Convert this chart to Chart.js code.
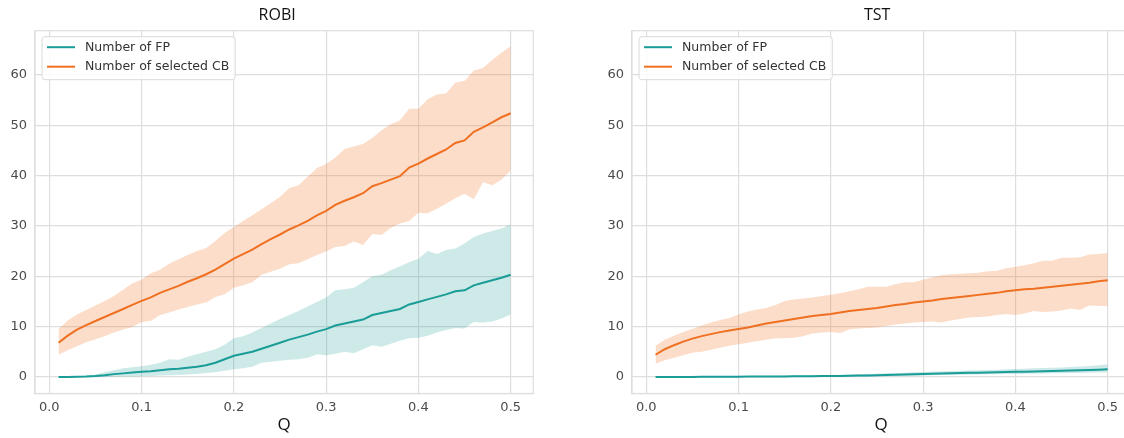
<!DOCTYPE html>
<html>
<head>
<meta charset="utf-8">
<script src="https://cdn.jsdelivr.net/npm/chart.js@4.4.1/dist/chart.umd.min.js"></script>
<style>
  html, body { margin: 0; padding: 0; background: #ffffff; overflow: hidden; }
  #wrap { position: relative; width: 1124px; height: 438px; overflow: hidden; }
  .box { position: absolute; top: 0; height: 438px; }
  #b1 { left: 0px; width: 560px; }
  #b2 { left: 582px; width: 560px; }
</style>
</head>
<body>
<div id="wrap">
  <div class="box" id="b1"><canvas id="c1" width="560" height="438"></canvas></div>
  <div class="box" id="b2"><canvas id="c2" width="560" height="438"></canvas></div>
</div>
<script>
// ---------------- data ----------------
const q = [0.01,0.02,0.03,0.04,0.05,0.06,0.07,0.08,0.09,0.10,
           0.11,0.12,0.13,0.14,0.15,0.16,0.17,0.18,0.19,0.20,
           0.21,0.22,0.23,0.24,0.25,0.26,0.27,0.28,0.29,0.30,
           0.31,0.32,0.33,0.34,0.35,0.36,0.37,0.38,0.39,0.40,
           0.41,0.42,0.43,0.44,0.45,0.46,0.47,0.48,0.49,0.50];

const titles = ["ROBI", "TST"];
const seriesLabels = ["Number of FP", "Number of selected CB"];
const yTicks = [0, 10, 20, 30, 40, 50, 60];
const xTicks = [0.0, 0.1, 0.2, 0.3, 0.4, 0.5];

// ROBI - Number of selected CB
const robiCbMean = [6.8,8.2,9.4,10.3,11.1,11.9,12.7,13.5,14.3,15.1,
                    15.8,16.7,17.4,18.1,18.9,19.6,20.4,21.3,22.4,23.5,
                    24.4,25.3,26.4,27.4,28.3,29.3,30.1,31.0,32.1,33.0,
                    34.2,35.0,35.7,36.5,37.9,38.5,39.2,39.9,41.6,42.4,
                    43.4,44.3,45.2,46.5,47.0,48.7,49.6,50.6,51.6,52.4];
const robiCbHigh = [9.5,11.2,12.4,13.3,14.2,15.1,16.1,17.3,18.6,19.3,
                    20.6,21.3,22.5,23.4,24.2,25.0,25.6,27.0,28.6,29.8,
                    31.0,32.1,33.3,34.5,35.8,37.5,38.1,39.8,41.5,42.3,
                    43.6,45.3,45.8,46.3,47.5,49.0,50.2,51.0,53.3,53.3,
                    55.2,56.1,56.3,58.5,58.8,60.9,61.4,63.0,64.4,65.7];
const robiCbLow  = [4.4,5.3,6.1,6.9,7.5,8.1,8.8,9.4,9.9,10.9,
                    11.1,12.3,12.8,13.4,13.9,14.4,14.8,15.9,16.4,17.7,
                    18.2,18.8,20.3,20.9,21.5,22.4,22.6,23.4,24.2,24.9,
                    25.8,26.0,26.9,26.2,28.4,28.2,29.6,30.5,31.0,32.6,
                    32.5,33.4,34.4,35.5,36.4,35.3,38.7,38.1,39.2,41.0];

// ROBI - Number of FP
const robiFpMean = [0.0,0.0,0.05,0.1,0.2,0.35,0.55,0.7,0.85,1.0,
                    1.1,1.3,1.5,1.6,1.8,2.0,2.3,2.8,3.5,4.2,
                    4.6,5.0,5.6,6.2,6.8,7.4,7.9,8.4,9.0,9.5,
                    10.2,10.6,11.0,11.4,12.3,12.7,13.1,13.5,14.4,14.9,
                    15.4,15.9,16.4,17.0,17.2,18.2,18.7,19.2,19.7,20.3];
const robiFpHigh = [0.0,0.05,0.15,0.3,0.5,0.9,1.3,1.7,1.9,2.1,
                    2.4,2.8,3.5,3.4,4.0,4.5,5.0,5.5,6.4,7.7,
                    8.1,8.8,9.7,10.6,11.5,12.3,13.1,14.0,14.9,15.8,
                    17.2,17.4,17.7,18.8,20.0,20.3,21.2,22.0,22.8,23.5,
                    25.0,24.4,25.2,25.5,26.5,27.8,28.5,29.0,29.5,30.3];
const robiFpLow  = [0.0,0.0,0.0,0.0,0.0,0.0,0.05,0.1,0.1,0.15,
                    0.2,0.3,0.35,0.4,0.5,0.6,0.75,0.9,1.2,1.5,
                    1.7,2.0,2.8,3.0,3.2,3.4,3.5,3.8,4.5,4.3,
                    4.6,5.0,4.7,5.5,6.3,6.0,6.6,7.2,7.7,7.8,
                    8.2,8.8,9.3,9.7,9.6,10.9,10.8,11.0,11.6,12.4];

// TST - Number of selected CB
const tstCbMean = [4.4,5.5,6.3,7.0,7.6,8.1,8.5,8.9,9.2,9.5,
                   9.8,10.2,10.6,10.9,11.2,11.5,11.8,12.1,12.3,12.5,
                   12.8,13.1,13.3,13.5,13.7,14.0,14.3,14.5,14.8,15.0,
                   15.2,15.5,15.7,15.9,16.1,16.3,16.5,16.7,17.0,17.2,
                   17.4,17.5,17.7,17.9,18.1,18.3,18.5,18.7,19.0,19.2];
const tstCbHigh = [6.2,7.4,8.2,8.9,9.5,10.2,10.8,11.3,11.7,12.4,
                   13.0,13.4,13.7,14.3,15.1,15.4,15.6,15.8,16.1,16.3,
                   16.6,17.0,17.4,17.9,17.9,17.9,18.4,18.8,18.8,19.3,
                   19.8,20.2,20.4,20.5,20.6,20.7,21.0,21.1,21.6,21.9,
                   22.2,22.6,23.1,23.1,23.7,23.7,23.8,24.3,24.4,24.6];
const tstCbLow  = [2.6,3.3,3.8,4.3,4.8,5.0,5.4,5.8,6.2,6.5,
                   6.8,7.1,7.4,7.7,7.7,7.8,8.1,8.6,8.8,8.9,
                   8.7,9.4,9.6,9.7,9.8,10.1,10.4,10.6,10.8,10.9,
                   11.0,10.8,11.2,11.5,11.8,11.9,12.0,12.3,12.5,12.3,
                   12.6,13.1,12.9,13.0,13.2,13.6,13.3,14.2,14.1,14.1];

// TST - Number of FP
const tstFpMean = [0.0,0.0,0.0,0.0,0.0,0.01,0.02,0.03,0.04,0.05,
                   0.06,0.07,0.08,0.09,0.1,0.11,0.12,0.14,0.16,0.18,
                   0.2,0.23,0.26,0.3,0.34,0.38,0.43,0.48,0.53,0.58,
                   0.63,0.68,0.72,0.76,0.8,0.84,0.88,0.92,0.96,1.0,
                   1.04,1.08,1.12,1.16,1.2,1.26,1.32,1.38,1.44,1.5];
const tstFpHigh = [0.0,0.0,0.0,0.02,0.04,0.06,0.08,0.1,0.12,0.14,
                   0.16,0.18,0.2,0.22,0.25,0.28,0.3,0.33,0.36,0.4,
                   0.44,0.48,0.52,0.58,0.64,0.7,0.76,0.82,0.9,0.98,
                   1.05,1.12,1.16,1.2,1.25,1.3,1.36,1.42,1.5,1.58,
                   1.64,1.7,1.76,1.82,1.88,1.95,2.05,2.15,2.3,2.5];
const tstFpLow  = [0.0,0.0,0.0,0.0,0.0,0.0,0.0,0.0,0.0,0.0,
                   0.0,0.0,0.01,0.01,0.02,0.02,0.03,0.03,0.04,0.05,
                   0.06,0.07,0.08,0.1,0.12,0.15,0.18,0.21,0.25,0.3,
                   0.33,0.36,0.39,0.42,0.45,0.48,0.51,0.54,0.57,0.6,
                   0.62,0.64,0.67,0.7,0.72,0.75,0.78,0.82,0.86,0.9];

// ---------------- styling ----------------
const TEAL = '#1a9c97';
const ORANGE = '#f07022';
const TEAL_FILL = 'rgba(26,156,151,0.22)';
const ORANGE_FILL = 'rgba(240,112,34,0.24)';
const GRID = '#dedede';
const TICK_FONT = "'DejaVu Sans', sans-serif";
const TITLE_FONT = "'Open Sans', sans-serif";

function pts(arr) { return q.map((x, i) => ({ x: x, y: arr[i] })); }

function band(lowArr, highArr, fill, tag) {
  return [
    { label: tag + '_low', data: pts(lowArr), borderWidth: 0, pointRadius: 0, fill: false, order: 5, isBand: true, borderColor: 'rgba(0,0,0,0)' },
    { label: tag + '_high', data: pts(highArr), borderWidth: 0, pointRadius: 0, fill: '-1', backgroundColor: fill, order: 5, isBand: true, borderColor: 'rgba(0,0,0,0)' }
  ];
}

const legendPlugin = {
  id: 'mplLegend',
  afterDraw(chart) {
    const ctx = chart.ctx;
    const a = chart.chartArea;
    const items = chart.data.datasets.filter(d => !d.isBand);
    ctx.save();
    ctx.font = "12.5px " + TICK_FONT;
    let maxW = 0;
    items.forEach(d => { maxW = Math.max(maxW, ctx.measureText(d.label).width); });
    const bx = a.left + 7, by = a.top + 6;
    const bw = 43 + maxW + 6, bh = 43;
    const r = 3;
    ctx.beginPath();
    ctx.moveTo(bx + r, by);
    ctx.lineTo(bx + bw - r, by); ctx.quadraticCurveTo(bx + bw, by, bx + bw, by + r);
    ctx.lineTo(bx + bw, by + bh - r); ctx.quadraticCurveTo(bx + bw, by + bh, bx + bw - r, by + bh);
    ctx.lineTo(bx + r, by + bh); ctx.quadraticCurveTo(bx, by + bh, bx, by + bh - r);
    ctx.lineTo(bx, by + r); ctx.quadraticCurveTo(bx, by, bx + r, by);
    ctx.closePath();
    ctx.fillStyle = 'rgba(255,255,255,0.85)';
    ctx.fill();
    ctx.strokeStyle = '#d9d9d9';
    ctx.lineWidth = 1;
    ctx.stroke();
    items.forEach((d, i) => {
      const yy = by + 10.5 + i * 19.5;
      ctx.beginPath();
      ctx.moveTo(bx + 5, yy); ctx.lineTo(bx + 33, yy);
      ctx.strokeStyle = d.borderColor; ctx.lineWidth = 2;
      ctx.stroke();
      ctx.fillStyle = '#333333';
      ctx.textBaseline = 'middle';
      ctx.textAlign = 'left';
      ctx.fillText(d.label, bx + 43, yy + 0.5);
    });
    ctx.restore();
  }
};

function titlePlugin(text, offset) {
  return {
    id: 'mplTitle',
    afterDraw(chart) {
      const a = chart.chartArea, ctx = chart.ctx;
      ctx.save();
      ctx.font = "16px " + TITLE_FONT;
      ctx.fillStyle = '#111111';
      ctx.textAlign = 'center';
      ctx.textBaseline = 'middle';
      ctx.fillText(text, (a.left + a.right) / 2 + offset, 15);
      ctx.restore();
    }
  };
}

function makeChart(id, title, titleOffset, fpMean, fpLow, fpHigh, cbMean, cbLow, cbHigh, yWidth, padRight) {
  const datasets = [
    ...band(fpLow, fpHigh, TEAL_FILL, 'fp'),
    ...band(cbLow, cbHigh, ORANGE_FILL, 'cb'),
    { label: seriesLabels[0], data: pts(fpMean), borderColor: TEAL, borderWidth: 2, pointRadius: 0, fill: false, order: 1 },
    { label: seriesLabels[1], data: pts(cbMean), borderColor: ORANGE, borderWidth: 2, pointRadius: 0, fill: false, order: 0 }
  ];
  return new Chart(document.getElementById(id), {
    type: 'line',
    data: { datasets: datasets },
    options: {
      responsive: false,
      animation: false,
      layout: { padding: { left: 0, right: padRight, top: 30.7, bottom: 3 } },
      elements: { line: { tension: 0 } },
      plugins: {
        legend: { display: false },
        tooltip: { enabled: false },
        title: { display: false }
      },
      scales: {
        x: {
          type: 'linear', min: -0.0155, max: 0.5245,
          afterBuildTicks: (s) => { s.ticks = xTicks.map(v => ({ value: v })); },
          afterFit: (s) => { s.height = 41.5; },
          ticks: { color: '#4a4a4a', font: { family: TICK_FONT, size: 13 }, padding: 6,
                   callback: (v) => Number(v).toFixed(1), maxRotation: 0 },
          grid: { color: GRID, lineWidth: 1.2, drawTicks: false },
          border: { display: true, color: GRID, width: 1.2 },
          title: { display: true, text: 'Q', color: '#111111',
                   font: { family: TITLE_FONT, size: 17 }, padding: { top: 0, bottom: 0 } }
        },
        y: {
          type: 'linear', min: -3.3, max: 68.8,
          afterBuildTicks: (s) => { s.ticks = yTicks.map(v => ({ value: v })); },
          afterFit: (s) => { s.width = yWidth; },
          ticks: { color: '#4a4a4a', font: { family: TICK_FONT, size: 13 }, padding: 8,
                   callback: (v) => String(Math.round(v)) },
          grid: { color: GRID, lineWidth: 1.2, drawTicks: false },
          border: { display: true, color: GRID, width: 1.2 }
        }
      }
    },
    plugins: [legendPlugin, titlePlugin(title, titleOffset), {
      id: 'frame',
      afterDraw(chart) {
        const a = chart.chartArea, ctx = chart.ctx;
        ctx.save();
        ctx.strokeStyle = GRID; ctx.lineWidth = 1.2;
        ctx.strokeRect(a.left, a.top, a.right - a.left, a.bottom - a.top);
        ctx.restore();
      }
    }]
  });
}

makeChart('c1', titles[0], -7, robiFpMean, robiFpLow, robiFpHigh, robiCbMean, robiCbLow, robiCbHigh, 35, 26.7);
makeChart('c2', titles[1], -4, tstFpMean, tstFpLow, tstFpHigh, tstCbMean, tstCbLow, tstCbHigh, 50, 11.7);
</script>
</body>
</html>
